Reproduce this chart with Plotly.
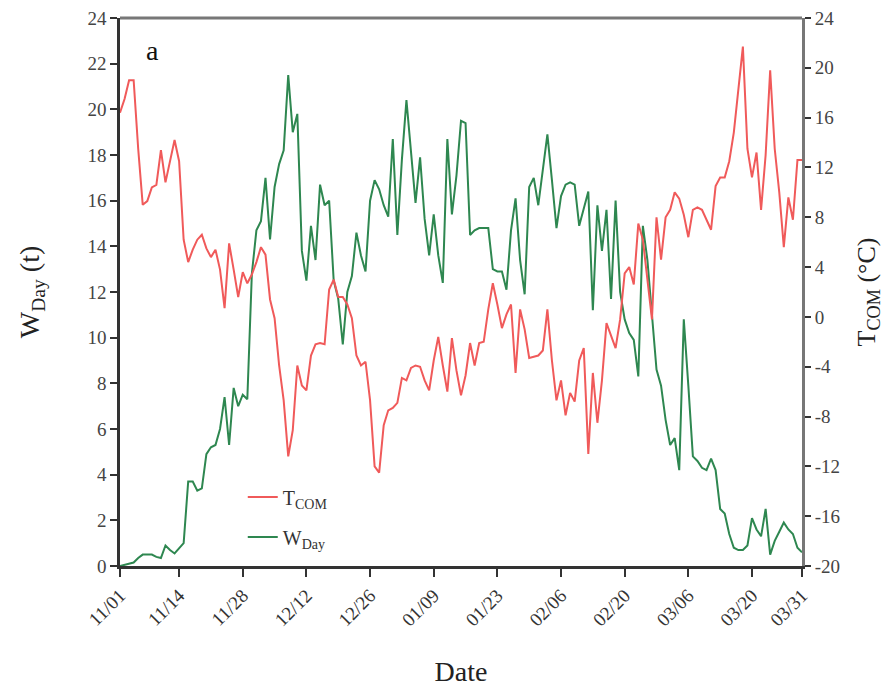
import pandas as pd
import plotly.graph_objects as go

# ---- data (daily, day 0 = 11/01) ----
start_date = "2018-11-01"
t_com = [16.4, 17.5, 19.0, 19.0, 13.5, 9.0, 9.3, 10.4, 10.6, 13.4,
         10.8, 12.6, 14.2, 12.5, 6.2, 4.4, 5.4, 6.2, 6.6, 5.5,
         4.8, 5.4, 3.8, 0.7, 5.9, 3.8, 1.6, 3.6, 2.7, 3.4,
         4.4, 5.6, 5.0, 1.4, -0.1, -3.9, -6.7, -11.2, -9.1, -3.9,
         -5.5, -5.9, -3.1, -2.2, -2.1, -2.2, 2.2, 3.0, 1.6, 1.6,
         1.0, -0.1, -3.1, -3.9, -3.6, -6.7, -12.0, -12.5, -8.7, -7.5,
         -7.3, -6.9, -4.9, -5.1, -4.1, -3.9, -4.0, -5.1, -5.9, -3.5,
         -1.6, -3.9, -6.0, -1.7, -4.3, -6.3, -4.7, -2.1, -3.9, -2.1,
         -2.0, 0.6, 2.7, 1.0, -0.9, 0.2, 1.0, -4.5, 0.6, -1.0,
         -3.3, -3.2, -3.1, -2.7, 0.6, -3.5, -6.7, -5.1, -7.9, -6.1,
         -6.8, -3.5, -2.5, -11.0, -4.5, -8.5, -5.1, -0.5, -1.5, -2.5,
         -0.2, 3.5, 4.0, 2.6, 7.5, 6.2, 3.0, -0.2, 8.0, 4.6,
         8.0, 8.6, 10.0, 9.5, 8.2, 6.4, 8.6, 8.8, 8.6, 7.8,
         7.0, 10.5, 11.2, 11.2, 12.5, 14.8, 18.0, 21.7, 13.5, 11.2,
         13.2, 8.6, 13.0, 19.8, 13.5, 10.0, 5.6, 9.6, 7.8, 12.6,
         12.6]
w_day = [0.0, 0.05, 0.1, 0.15, 0.35, 0.5, 0.5, 0.5, 0.4, 0.35,
         0.9, 0.7, 0.55, 0.8, 1.0, 3.7, 3.7, 3.3, 3.4, 4.9,
         5.2, 5.3, 6.0, 7.4, 5.3, 7.8, 7.0, 7.5, 7.3, 12.8,
         14.7, 15.1, 17.0, 14.3, 16.6, 17.6, 18.2, 21.5, 19.0, 19.8,
         13.8, 12.5, 14.9, 13.4, 16.7, 15.8, 16.0, 12.5, 11.7, 9.7,
         12.0, 12.7, 14.6, 13.6, 12.9, 16.0, 16.9, 16.5, 15.8, 15.3,
         18.7, 14.5, 17.8, 20.4, 18.2, 15.9, 17.9, 15.2, 13.6, 15.4,
         13.6, 12.4, 18.7, 15.4, 17.1, 19.5, 19.4, 14.5, 14.7, 14.8,
         14.8, 14.8, 13.0, 12.9, 12.9, 12.1, 14.7, 16.1, 13.4, 11.9,
         16.6, 17.0, 15.8, 17.3, 18.9, 16.9, 14.8, 16.2, 16.7, 16.8,
         16.7, 14.9, 15.6, 16.4, 11.2, 15.8, 13.8, 15.6, 11.7, 16.0,
         12.0, 10.8, 10.2, 9.9, 8.3, 14.9, 13.4, 10.9, 8.6, 7.9,
         6.4, 5.3, 5.6, 4.2, 10.8, 7.9, 4.8, 4.6, 4.3, 4.2,
         4.7, 4.2, 2.5, 2.3, 1.4, 0.8, 0.7, 0.7, 0.9, 2.1,
         1.6, 1.3, 2.5, 0.5, 1.1, 1.5, 1.9, 1.6, 1.4, 0.8,
         0.6]
x_tick_dates = ["2018-11-01", "2018-11-14", "2018-11-28", "2018-12-12",
                "2018-12-26", "2019-01-09", "2019-01-23", "2019-02-06",
                "2019-02-20", "2019-03-06", "2019-03-20", "2019-03-31"]
x_tick_labels = ["11/01", "11/14", "11/28", "12/12", "12/26", "01/09",
                 "01/23", "02/06", "02/20", "03/06", "03/20", "03/31"]
w_ticks = list(range(0, 25, 2))
t_ticks = list(range(-20, 25, 4))
t_tick_labels = [str(v) for v in t_ticks]

dates = pd.date_range(start_date, periods=len(w_day), freq="D")

SERIF = "Liberation Serif, Times New Roman, serif"
RED = "rgb(240,90,90)"
GREEN = "rgb(46,135,80)"

fig = go.Figure()
fig.add_trace(go.Scatter(x=dates, y=w_day, mode="lines", name="W<sub>Day</sub>",
                         line=dict(color=GREEN, width=2), yaxis="y",
                         legend="legend2", showlegend=True))
fig.add_trace(go.Scatter(x=dates, y=t_com, mode="lines", name="T<sub>COM</sub>",
                         line=dict(color=RED, width=2), yaxis="y2",
                         legend="legend3", showlegend=True))

tickfont = dict(family=SERIF, size=19, color="#444")
legfont = dict(family=SERIF, size=20, color="#333")
fig.update_layout(
    width=884, height=687,
    showlegend=True,
    margin=dict(l=120, r=82, t=18, b=121, autoexpand=False),
    paper_bgcolor="white", plot_bgcolor="white",
    font=dict(family=SERIF, color="#222"),
    xaxis=dict(
        type="date", automargin=False,
        range=[x_tick_dates[0], x_tick_dates[-1]],
        tickvals=x_tick_dates, ticktext=x_tick_labels,
        tickangle=-45, tickfont=dict(family=SERIF, size=19, color="#333"),
        showgrid=False, zeroline=False,
        showline=True, linecolor="#333", linewidth=3,
        ticks="outside", ticklen=8, tickwidth=2, tickcolor="#333",
        title=dict(text="Date", font=dict(family=SERIF, size=28, color="#222"), standoff=40),
    ),
    yaxis=dict(
        range=[0, 24], tickvals=w_ticks, automargin=False,
        tickfont=tickfont,
        showgrid=False, zeroline=False,
        showline=True, linecolor="#333", linewidth=2.5,
        ticks="outside", ticklen=7, tickwidth=2, tickcolor="#333",
        title=dict(text="W<sub>Day</sub> (t)", font=dict(family=SERIF, size=28, color="#222"), standoff=40),
    ),
    yaxis2=dict(
        overlaying="y", side="right", automargin=False,
        range=[-20, 24], tickvals=t_ticks, ticktext=t_tick_labels,
        tickfont=tickfont,
        showgrid=False, zeroline=False,
        showline=True, linecolor="#777", linewidth=3,
        ticks="outside", ticklen=6, tickwidth=2, tickcolor="#333",
        title=dict(text="T<sub>COM</sub> (°C)", font=dict(family=SERIF, size=26, color="#222"), standoff=20),
    ),
    legend2=dict(x=0.18, y=0.053, xanchor="left", yanchor="middle",
                 bgcolor="rgba(0,0,0,0)", font=legfont, visible=True),
    legend3=dict(x=0.18, y=0.126, xanchor="left", yanchor="middle",
                 bgcolor="rgba(0,0,0,0)", font=legfont, visible=True),
    shapes=[dict(type="line", xref="paper", yref="paper", x0=0, x1=1, y0=1, y1=1,
                 line=dict(color="#777", width=3))],
    annotations=[dict(text="a", xref="paper", yref="paper", x=0.048, y=0.94,
                      xanchor="center", yanchor="middle", showarrow=False,
                      font=dict(family=SERIF, size=28, color="#111"))],
)

fig.write_html("out.html")
